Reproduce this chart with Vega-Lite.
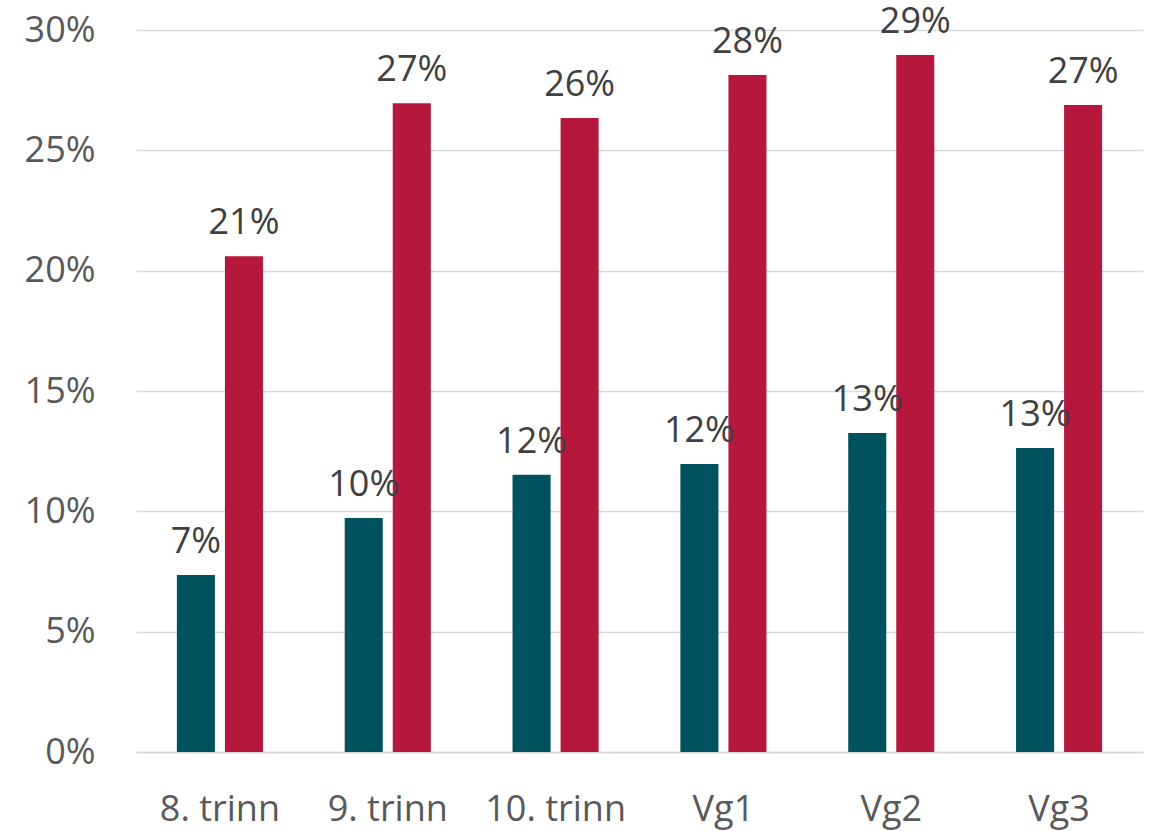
{
  "$schema": "https://vega.github.io/schema/vega-lite/v6.json",
  "autosize": "none",
  "width": 1007,
  "height": 722,
  "padding": {"left": 136, "top": 30, "right": 7, "bottom": 79},
  "background": "white",
  "config": {
    "view": {"stroke": null},
    "font": "Open Sans"
  },
  "data": {
    "values": [
      {"trinn": "8. trinn", "serie": "A", "verdi": 0.0735},
      {"trinn": "8. trinn", "serie": "B", "verdi": 0.206},
      {"trinn": "9. trinn", "serie": "A", "verdi": 0.0972},
      {"trinn": "9. trinn", "serie": "B", "verdi": 0.2696},
      {"trinn": "10. trinn", "serie": "A", "verdi": 0.1152},
      {"trinn": "10. trinn", "serie": "B", "verdi": 0.2634},
      {"trinn": "Vg1", "serie": "A", "verdi": 0.1197},
      {"trinn": "Vg1", "serie": "B", "verdi": 0.2813},
      {"trinn": "Vg2", "serie": "A", "verdi": 0.1325},
      {"trinn": "Vg2", "serie": "B", "verdi": 0.2896},
      {"trinn": "Vg3", "serie": "A", "verdi": 0.1263},
      {"trinn": "Vg3", "serie": "B", "verdi": 0.2688}
    ]
  },
  "encoding": {
    "x": {
      "field": "trinn",
      "type": "nominal",
      "sort": null,
      "title": null,
      "scale": {"paddingInner": 0.487, "paddingOuter": 0.2435},
      "axis": {
        "labelAngle": 0,
        "labelFontSize": 36,
        "labelColor": "#595959",
        "labelBaseline": "alphabetic",
        "labelPadding": 68,
        "ticks": false,
        "domain": true,
        "domainColor": "#d9d9d9",
        "domainWidth": 1.5,
        "grid": false
      }
    },
    "xOffset": {
      "field": "serie",
      "type": "nominal",
      "scale": {"paddingInner": 0.208, "paddingOuter": 0}
    },
    "y": {
      "field": "verdi",
      "type": "quantitative",
      "title": null,
      "scale": {"domain": [0, 0.3], "nice": false},
      "axis": {
        "values": [0, 0.05, 0.1, 0.15, 0.2, 0.25, 0.3],
        "format": ".0%",
        "labelFontSize": 36,
        "labelColor": "#595959",
        "labelPadding": 41,
        "ticks": false,
        "domain": false,
        "gridColor": "#d9d9d9",
        "gridWidth": 1.5
      }
    }
  },
  "layer": [
    {
      "mark": {"type": "bar"},
      "encoding": {
        "color": {
          "field": "serie",
          "type": "nominal",
          "scale": {"domain": ["A", "B"], "range": ["#00525E", "#B5183C"]},
          "legend": null
        }
      }
    },
    {
      "mark": {"type": "text", "baseline": "alphabetic", "dy": -22, "fontSize": 36, "color": "#404040"},
      "encoding": {
        "text": {"field": "verdi", "type": "quantitative", "format": ".0%"}
      }
    }
  ]
}
